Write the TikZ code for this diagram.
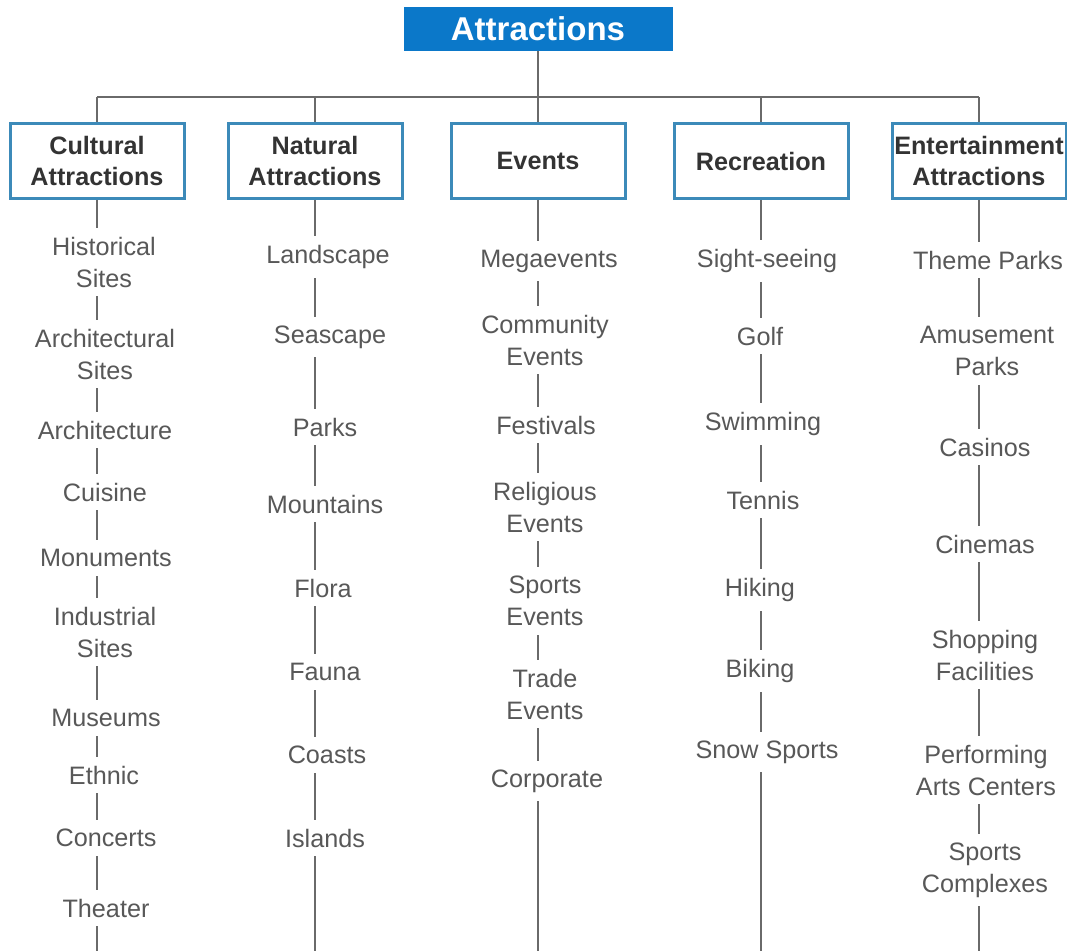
\documentclass[tikz,border=0pt]{standalone}
\usepackage{fontspec}
\setmainfont{Liberation Sans}
\usepackage{xcolor,tikz}
\definecolor{topblue}{HTML}{0B78C9}
\definecolor{boxblue}{HTML}{3C8AB9}
\definecolor{linegray}{HTML}{6A6A6A}
\definecolor{itemgray}{HTML}{585858}
\tikzset{
	topbox/.style={fill=topblue, text=white, font=\bfseries\fontsize{16.5}{20}\selectfont, minimum width=134.5pt, minimum height=22pt, inner sep=0pt},
	catbox/.style={draw=boxblue, line width=1.5pt, fill=white, text=black!80, font=\bfseries\fontsize{12.6}{16}\selectfont, align=center, minimum width=87pt, minimum height=37.5pt, inner sep=0pt},
	item/.style={fill=white, text=itemgray, font=\fontsize{12.6}{16}\selectfont, align=center, inner xsep=2.5pt, inner ysep=4.5pt},
	every edge/.append style={draw=linegray, line width=1pt}
}

\begin{document}
\begin{tikzpicture}[x=0.5pt, y=-0.5pt]
			\useasboundingbox (0, 0) rectangle (1067, 951);
			\draw (538, 29) node [topbox] (top) {Attractions};
			\draw (97, 161) node [catbox] (cul) {Cultural\\Attractions};
			\draw (315, 161) node [catbox] (nat) {Natural\\Attractions};
			\draw (538, 161) node [catbox] (ev) {Events};
			\draw (761, 161) node [catbox] (rec) {Recreation};
			\draw (979, 161) node [catbox] (ent) {Entertainment\\Attractions};
			\coordinate (bus) at (538, 97);
			\coordinate (bot) at (0, 951);
			\draw [linegray, line width=1pt] (cul |- bus) -- (ent |- bus);
			\path (top) edge (ev);
			\path (cul) edge (cul |- bus);
			\path (nat) edge (nat |- bus);
			\path (rec) edge (rec |- bus);
			\path (ent) edge (ent |- bus);
			\path (cul) edge (cul |- bot);
			\path (nat) edge (nat |- bot);
			\path (ev) edge (ev |- bot);
			\path (rec) edge (rec |- bot);
			\path (ent) edge (ent |- bot);
			\draw (104, 262) node [item] (cul1) {Historical\\Sites};
			\draw (105, 354) node [item] (cul2) {Architectural\\Sites};
			\draw (105, 430) node [item] (cul3) {Architecture};
			\draw (105, 492) node [item] (cul4) {Cuisine};
			\draw (106, 558) node [item] (cul5) {Monuments};
			\draw (105, 632) node [item] (cul6) {Industrial\\Sites};
			\draw (106, 718) node [item] (cul7) {Museums};
			\draw (104, 775) node [item] (cul8) {Ethnic};
			\draw (106, 838) node [item] (cul9) {Concerts};
			\draw (106, 908) node [item] (cul10) {Theater};
			\draw (328, 257) node [item] (nat1) {Landscape};
			\draw (330, 337) node [item] (nat2) {Seascape};
			\draw (325, 427) node [item] (nat3) {Parks};
			\draw (325, 504) node [item] (nat4) {Mountains};
			\draw (323, 588) node [item] (nat5) {Flora};
			\draw (325, 672) node [item] (nat6) {Fauna};
			\draw (327, 755) node [item] (nat7) {Coasts};
			\draw (325, 838) node [item] (nat8) {Islands};
			\draw (549, 261) node [item] (ev1) {Megaevents};
			\draw (545, 340) node [item] (ev2) {Community\\Events};
			\draw (546, 425) node [item] (ev3) {Festivals};
			\draw (545, 507) node [item] (ev4) {Religious\\Events};
			\draw (545, 601) node [item] (ev5) {Sports\\Events};
			\draw (545, 694) node [item] (ev6) {Trade\\Events};
			\draw (547, 781) node [item] (ev7) {Corporate};
			\draw (767, 261) node [item] (rec1) {Sight-seeing};
			\draw (760, 336) node [item] (rec2) {Golf};
			\draw (763, 424) node [item] (rec3) {Swimming};
			\draw (763, 500) node [item] (rec4) {Tennis};
			\draw (760, 590) node [item] (rec5) {Hiking};
			\draw (760, 671) node [item] (rec6) {Biking};
			\draw (767, 752) node [item] (rec7) {Snow Sports};
			\draw (988, 260) node [item] (ent1) {Theme Parks};
			\draw (987, 351) node [item] (ent2) {Amusement\\Parks};
			\draw (985, 447) node [item] (ent3) {Casinos};
			\draw (985, 544) node [item] (ent4) {Cinemas};
			\draw (985, 655) node [item] (ent5) {Shopping\\Facilities};
			\draw (986, 770) node [item] (ent6) {Performing\\Arts Centers};
			\draw (985, 870) node [item] (ent7) {Sports\\Complexes};
		\end{tikzpicture}
\end{document}
